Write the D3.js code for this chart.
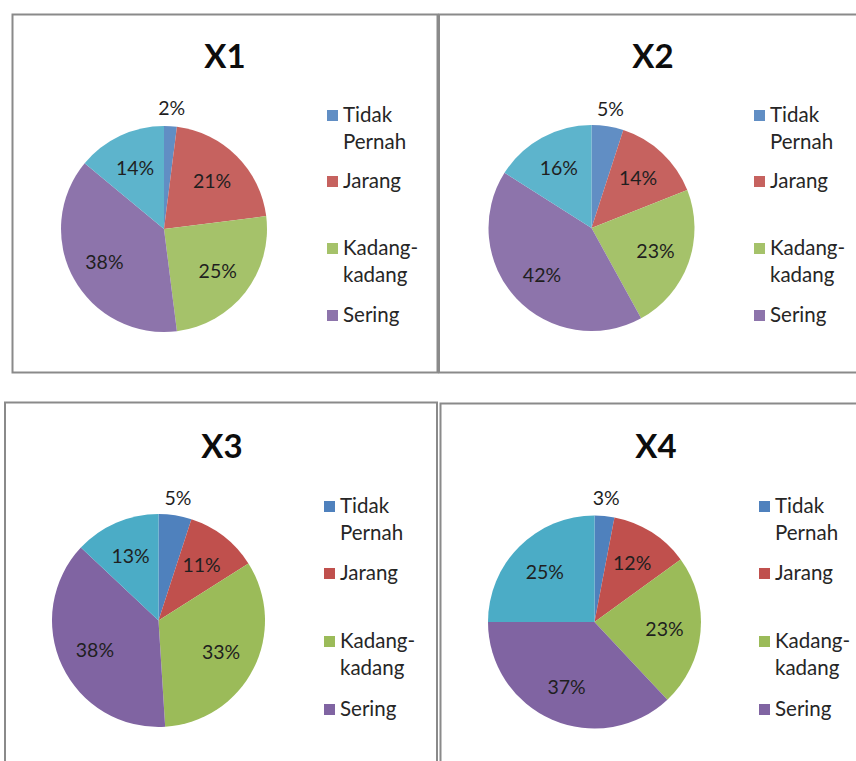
<!DOCTYPE html>
<html>
<head>
<meta charset="utf-8">
<script src="https://cdnjs.cloudflare.com/ajax/libs/d3/7.8.5/d3.min.js"></script>
<style>
  body { margin: 0; background: #fff; }
  svg { display: block; font-family: Lato, "Open Sans", sans-serif; }
</style>
</head>
<body>
<div id="chart"></div>
<script>
// données
const categories = ["Tidak Pernah", "Jarang", "Kadang-kadang", "Sering", "Lainnya"];
const legendLines = [["Tidak", "Pernah"], ["Jarang"], ["Kadang-", "kadang"], ["Sering"]];
const titles = ["X1", "X2", "X3", "X4"];
const valuesX1 = [2, 21, 25, 38, 14];
const valuesX2 = [5, 14, 23, 42, 16];
const valuesX3 = [5, 11, 33, 38, 13];
const valuesX4 = [3, 12, 23, 37, 25];

const palette = ["#4f81bd", "#c0504d", "#9bbb59", "#8064a2", "#4bacc6"];

// mise en page des quatre panneaux
const panels = [
  { values: valuesX1, box: [12.5, 14.5, 425, 358], cx: 164, cy: 229, r: 103, tx: 225, ty: 68, lx: 327, ly: 122, step: 1, fade: 0.1 },
  { values: valuesX2, box: [439, 14.5, 430, 358], cx: 591.5, cy: 228, r: 103, tx: 653, ty: 68, lx: 754, ly: 122, step: 1, fade: 0.1 },
  { values: valuesX3, box: [5, 402.5, 432, 400], cx: 158.5, cy: 620.5, r: 106.5, tx: 222, ty: 458, lx: 324, ly: 513, step: 1.015, fade: 0 },
  { values: valuesX4, box: [440.5, 403.5, 430, 400], cx: 594.5, cy: 622, r: 106.5, tx: 656, ty: 458, lx: 759, ly: 513, step: 1.015, fade: 0 }
];

const svg = d3.select('#chart').append('svg')
  .attr('width', 856)
  .attr('height', 761);

const pie = d3.pie().sort(null).value(d => d);

panels.forEach((p, i) => {
  const g = svg.append('g');
  const color = d3.scaleOrdinal()
    .domain(categories)
    .range(palette.map(c => d3.interpolateRgb(c, "#fff")(p.fade)));

  g.append('rect')
    .attr('x', p.box[0]).attr('y', p.box[1])
    .attr('width', p.box[2]).attr('height', p.box[3])
    .attr('fill', 'none')
    .attr('stroke', '#8a8a8a')
    .attr('stroke-width', 2);

  g.append('text')
    .attr('x', p.tx).attr('y', p.ty)
    .attr('text-anchor', 'middle')
    .attr('font-size', 33)
    .attr('font-weight', 'bold')
    .attr('fill', '#0d0d0d')
    .text(titles[i]);

  const arcs = pie(p.values);
  const arc = d3.arc().innerRadius(0).outerRadius(p.r);
  const inner = d3.arc().innerRadius(p.r * 0.66).outerRadius(p.r * 0.66);
  const outer = d3.arc().innerRadius(p.r + 18).outerRadius(p.r + 18);

  const pieG = g.append('g').attr('transform', `translate(${p.cx},${p.cy})`);
  pieG.selectAll('path')
    .data(arcs)
    .enter().append('path')
    .attr('d', arc)
    .attr('fill', (d, j) => color(categories[j]));

  pieG.selectAll('text')
    .data(arcs)
    .enter().append('text')
    .attr('transform', d => `translate(${(d.data <= 5 ? outer : inner).centroid(d)})`)
    .attr('text-anchor', 'middle')
    .attr('dy', '0.36em')
    .attr('font-size', 19.5)
    .attr('fill', '#1f1f1f')
    .text(d => d.data + '%');

  // légende (seulement les quatre premières catégories)
  const offsets = [0, 66, 133, 200];
  legendLines.forEach((lines, j) => {
    const y0 = p.ly + offsets[j] * p.step;
    g.append('rect')
      .attr('x', p.lx).attr('y', y0 - 12)
      .attr('width', 11).attr('height', 11)
      .attr('fill', color(categories[j]));
    lines.forEach((t, k) => {
      g.append('text')
        .attr('x', p.lx + 16).attr('y', y0 + k * 26.5 * p.step)
        .attr('font-size', 20.5)
        .attr('fill', '#262626')
        .text(t);
    });
  });
});
</script>
</body>
</html>
